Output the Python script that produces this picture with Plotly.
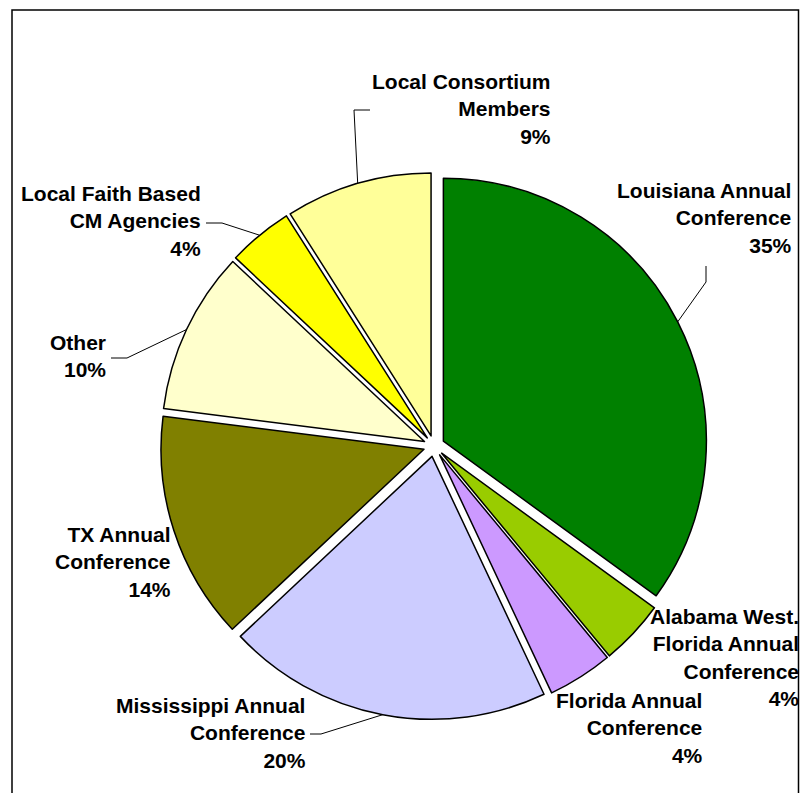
import math
import plotly.graph_objects as go

# ---- data ----
categories = [
    "Louisiana Annual<br>Conference",
    "Alabama West.<br>Florida Annual<br>Conference",
    "Florida Annual<br>Conference",
    "Mississippi Annual<br>Conference",
    "TX Annual<br>Conference",
    "Other",
    "Local Faith Based<br>CM Agencies",
    "Local Consortium<br>Members",
]
values = [35, 4, 4, 20, 14, 10, 4, 9]
colors = ["#008000", "#99CC00", "#CC99FF", "#CCCCFF",
          "#808000", "#FFFFCC", "#FFFF00", "#FFFF99"]

# ---- layout geometry (pixels) ----
W, H = 800, 793
CX, CY, R = 434, 446, 263
PULL = 0.04
half = R * (1 + PULL)


def P(x, y):
    return x / W, 1 - y / H


# label placement: right edge x, vertical centre y, leader (label end, elbow) or None
label_pos = [
    (794, 218, ((706, 266), (706, 282))),
    (801, 657, None),
    (705, 728, None),
    (308, 733, ((310, 734), (321, 734))),
    (173, 562, None),
    (108, 356, ((111, 358), (127, 358))),
    (203, 221, ((206, 223), (222, 223))),
    (553, 109, ((370, 110), (354, 110))),
]

total = sum(values)

fig = go.Figure(go.Pie(
    labels=categories,
    values=values,
    sort=False,
    direction="clockwise",
    rotation=0,
    pull=[PULL] * len(values),
    marker=dict(colors=colors, line=dict(color="black", width=1.5)),
    textinfo="none",
    hoverinfo="none",
    showlegend=False,
    domain=dict(x=[(CX - half) / W, (CX + half) / W],
                y=[(H - CY - half) / H, (H - CY + half) / H]),
))

annotations = []
shapes = []
cum = 0
for name, v, (rx, cy, leader) in zip(categories, values, label_pos):
    pct = v / total * 100
    ax, ay = P(rx, cy)
    annotations.append(dict(
        x=ax, y=ay, xref="paper", yref="paper",
        xanchor="right", yanchor="middle", align="right",
        text=f"{name}<br>{pct:.0f}%", showarrow=False,
        font=dict(family="Liberation Sans, Arial, sans-serif", size=21,
                  color="black", weight="bold"),
    ))
    if leader is not None:
        frac = (cum + v / 2) / total
        th = 2 * math.pi * frac
        px = CX + half * math.sin(th)
        py = CY - half * math.cos(th)
        (ex, ey), (bx, by) = leader
        p1 = P(ex, ey)
        p2 = P(bx, by)
        p3 = P(px, py)
        shapes.append(dict(
            type="path", xref="paper", yref="paper",
            path=f"M {p1[0]},{p1[1]} L {p2[0]},{p2[1]} L {p3[0]},{p3[1]}",
            line=dict(color="black", width=1),
        ))
    cum += v

# outer frame
fx0, fy0 = P(12, 10)
fx1, _ = P(798.5, 10)
shapes.append(dict(type="rect", xref="paper", yref="paper",
                   x0=fx0, x1=fx1, y0=-0.05, y1=fy0,
                   line=dict(color="black", width=1.5), layer="below"))

fig.update_layout(
    width=W, height=H,
    margin=dict(l=0, r=0, t=0, b=0),
    paper_bgcolor="white", plot_bgcolor="white",
    annotations=annotations, shapes=shapes,
)

fig.write_html(
    "out.html",
    config={"displayModeBar": False},
    post_script="document.body.style.margin='0';"
                "document.body.style.overflow='hidden';",
)
